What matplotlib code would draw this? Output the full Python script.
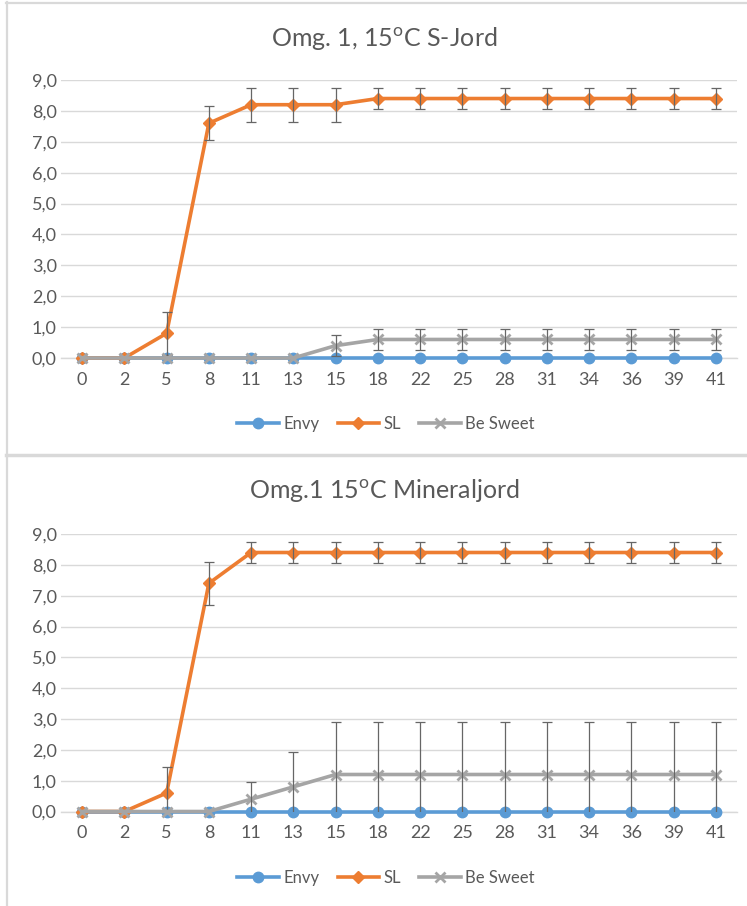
import matplotlib
matplotlib.use("Agg")
import matplotlib.pyplot as plt
from matplotlib.lines import Line2D
from matplotlib.ticker import FuncFormatter, MultipleLocator

plt.rcParams['font.family'] = ['Lato', 'DejaVu Sans']
plt.rcParams['mathtext.fontset'] = 'custom'
plt.rcParams['mathtext.rm'] = 'Lato'

days = ['0', '2', '5', '8', '11', '13', '15', '18', '22', '25', '28', '31', '34', '36', '39', '41']
series_names = ['Envy', 'SL', 'Be Sweet']

# Panel 1: Omg. 1, 15oC S-Jord
p1_envy = [0.0] * 16
p1_sl = [0.0, 0.0, 0.8, 7.6, 8.2, 8.2, 8.2, 8.4, 8.4, 8.4, 8.4, 8.4, 8.4, 8.4, 8.4, 8.4]
p1_sl_err = [0, 0, 0.7, 0.55, 0.55, 0.55, 0.55, 0.35, 0.35, 0.35, 0.35, 0.35, 0.35, 0.35, 0.35, 0.35]
p1_bs = [0, 0, 0, 0, 0, 0, 0.4, 0.6, 0.6, 0.6, 0.6, 0.6, 0.6, 0.6, 0.6, 0.6]
p1_bs_err = [0, 0, 0, 0, 0, 0, 0.35, 0.35, 0.35, 0.35, 0.35, 0.35, 0.35, 0.35, 0.35, 0.35]

# Panel 2: Omg.1 15oC Mineraljord
p2_envy = [0.0] * 16
p2_sl = [0.0, 0.0, 0.6, 7.4, 8.4, 8.4, 8.4, 8.4, 8.4, 8.4, 8.4, 8.4, 8.4, 8.4, 8.4, 8.4]
p2_sl_err = [0, 0, 0.85, 0.7, 0.35, 0.35, 0.35, 0.35, 0.35, 0.35, 0.35, 0.35, 0.35, 0.35, 0.35, 0.35]
p2_bs = [0, 0, 0, 0, 0.4, 0.8, 1.2, 1.2, 1.2, 1.2, 1.2, 1.2, 1.2, 1.2, 1.2, 1.2]
p2_bs_err = [0, 0, 0, 0, 0.57, 1.13, 1.7, 1.7, 1.7, 1.7, 1.7, 1.7, 1.7, 1.7, 1.7, 1.7]

titles = [r"Omg. 1, 15$^{\mathrm{o}}$C S-Jord", r"Omg.1 15$^{\mathrm{o}}$C Mineraljord"]

COL = {'Envy': '#5B9BD5', 'SL': '#ED7D31', 'Be Sweet': '#A5A5A5'}
MK = {'Envy': 'o', 'SL': 'D', 'Be Sweet': 'x'}
MS = {'Envy': 7.5, 'SL': 6.5, 'Be Sweet': 7.5}
TXT = '#595959'
GRID = '#D9D9D9'
LW = 2.6

W, H = 747, 906
fig = plt.figure(figsize=(W / 100, H / 100), dpi=100)

def fx(px):
    return px / W

def fy(py):
    return 1 - py / H

# panel borders
fig.add_artist(Line2D([fx(7), fx(7)], [fy(2), fy(906)], color=GRID, lw=1.6, transform=fig.transFigure))
fig.add_artist(Line2D([fx(6), fx(747)], [fy(3), fy(3)], color=GRID, lw=1.6, transform=fig.transFigure))
fig.add_artist(Line2D([fx(6), fx(747)], [fy(455.5), fy(455.5)], color=GRID, lw=2.5, transform=fig.transFigure))

panels = [
    dict(top=80, bot=358, title_y=38, leg_y=424,
         data={'Envy': (p1_envy, None), 'SL': (p1_sl, p1_sl_err), 'Be Sweet': (p1_bs, p1_bs_err)}),
    dict(top=534, bot=811.5, title_y=491, leg_y=878,
         data={'Envy': (p2_envy, None), 'SL': (p2_sl, p2_sl_err), 'Be Sweet': (p2_bs, p2_bs_err)}),
]

left, right = 61, 737
x = list(range(len(days)))
for i, p in enumerate(panels):
    ax = fig.add_axes([fx(left), fy(p['bot']), fx(right - left), (p['bot'] - p['top']) / H])
    ax.set_xlim(-0.5, len(days) - 0.5)
    ax.set_ylim(0, 9)
    ax.yaxis.set_major_locator(MultipleLocator(1))
    ax.yaxis.set_major_formatter(FuncFormatter(lambda v, pos: f"{v:.1f}".replace('.', ',')))
    ax.set_xticks(x)
    ax.set_xticklabels(days)
    ax.grid(axis='y', color=GRID, lw=1.0, zorder=0)
    ax.set_axisbelow(True)
    for s in ['top', 'right', 'left']:
        ax.spines[s].set_visible(False)
    ax.spines['bottom'].set_color(GRID)
    ax.spines['bottom'].set_linewidth(1.0)
    ax.tick_params(length=0, colors=TXT, labelsize=13)
    ax.tick_params(axis='x', pad=10)
    ax.tick_params(axis='y', pad=3)
    for z, name in enumerate(series_names):
        vals, err = p['data'][name]
        ax.plot(x, vals, color=COL[name], lw=LW, marker=MK[name], ms=MS[name],
                mew=2 if name == 'Be Sweet' else 1, mec=COL[name], clip_on=False,
                zorder=3 + z, solid_capstyle='round')
        if err is not None:
            xs = [xi for xi, e in zip(x, err) if e > 0]
            ys = [v for v, e in zip(vals, err) if e > 0]
            es = [e for e in err if e > 0]
            ax.errorbar(xs, ys, yerr=es, fmt='none', ecolor='#666666', elinewidth=0.9,
                        capsize=3.5, capthick=0.9, zorder=3.5 + z)
    fig.text(fx(384), fy(p['title_y']), titles[i], ha='center', va='center', fontsize=18, color=TXT)
    handles = [Line2D([], [], color=COL[n], lw=LW, marker=MK[n], ms=MS[n],
                      mew=2 if n == 'Be Sweet' else 1) for n in series_names]
    fig.legend(handles, series_names, loc='center', bbox_to_anchor=(fx(386), fy(p['leg_y'])),
               ncol=3, frameon=False, fontsize=12, handlelength=2.5, handletextpad=0.25,
               columnspacing=1.1, labelcolor=TXT)

fig.savefig('out.png', dpi=100)
